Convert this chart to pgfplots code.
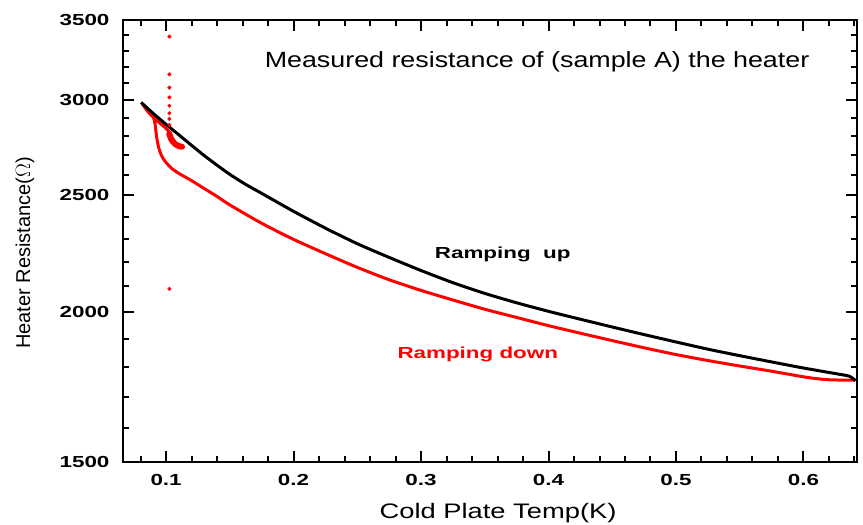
\documentclass[border=0pt]{standalone}
\usepackage{pgfplots}
\pgfplotsset{compat=1.18}
\usepackage{fontspec}
\setmainfont{Liberation Sans}
\newfontfamily\tickfont[FakeStretch=1.4]{Liberation Sans}
\newfontfamily\titlefont[FakeStretch=1.22]{Liberation Sans}
\newfontfamily\labfont[FakeStretch=1.3]{Liberation Sans}
\definecolor{rred}{RGB}{255,0,0}
\begin{document}
\begin{tikzpicture}
\useasboundingbox (0,0) rectangle (863pt,525pt);
\begin{axis}[
  at={(123pt,63pt)}, anchor=south west,
  scale only axis, width=734pt, height=442pt,
  ymode=log,
  xmin=0.0662, xmax=0.642, ymin=1500, ymax=3500,
  xtick={0.1,0.2,0.3,0.4,0.5,0.6},
  xticklabels={0.1,0.2,0.3,0.4,0.5,0.6},
  minor xtick={0.08,0.12,0.14,0.16,0.18,0.22,0.24,0.26,0.28,0.32,0.34,0.36,0.38,0.42,0.44,0.46,0.48,0.52,0.54,0.56,0.58,0.62,0.64},
  ytick={1500,2000,2500,3000,3500},
  yticklabels={1500,2000,2500,3000,3500},
  minor ytick={1600,1700,1800,1900,2100,2200,2300,2400,2600,2700,2800,2900,3100,3200,3300,3400},
  tick align=inside,
  major tick length=11pt, minor tick length=6pt,
  every tick/.style={black, line width=2pt},
  axis line style={line width=2.5pt},
  ticklabel style={font=\fontsize{16}{16}\selectfont\tickfont\bfseries},
  yticklabel style={xshift=-10pt},
  xticklabel style={yshift=-9pt},
  xlabel={Cold Plate Temp(K)},
  ylabel={Heater Resistance($\Omega$)},
  xlabel style={font=\fontsize{21}{21}\selectfont\labfont, at={(rel axis cs:0.511,-0.1154)}, anchor=center},
  ylabel style={font=\fontsize{20}{20}\selectfont, at={(rel axis cs:-0.1335,0.473)}, anchor=center},
]
% Ramping down (red), from high T to low T, then loop toward blob
\addplot[rred, line width=3pt, line join=round, smooth, tension=0.4] coordinates {
(0.6408,1755) (0.630,1755) (0.620,1756) (0.610,1760) (0.600,1766)
(0.575,1785) (0.550,1803) (0.525,1822) (0.500,1843) (0.475,1867)
(0.450,1893) (0.425,1920) (0.400,1948) (0.375,1979) (0.350,2010)
(0.325,2046) (0.300,2084) (0.275,2127) (0.250,2178) (0.225,2236)
(0.200,2298) (0.175,2370) (0.150,2455) (0.140,2495) (0.130,2533)
(0.120,2572) (0.110,2608) (0.104,2635) (0.0985,2675) (0.0960,2705)
(0.0940,2745) (0.0925,2800) (0.0915,2860) (0.0900,2905) (0.0860,2945)
(0.0815,2978) (0.0870,2925) (0.0930,2885) (0.0980,2855) (0.1025,2825)
};
\addplot[rred, line width=6pt, line cap=round, line join=round, smooth] coordinates {
(0.1025,2815) (0.1040,2785) (0.1070,2760) (0.1100,2748) (0.1125,2745)
};
\addplot[rred, only marks, mark=*, mark size=1.8pt] coordinates {
(0.1026,3390) (0.1026,3153) (0.1026,3074) (0.1026,3017) (0.1026,2969)
(0.1026,2927) (0.1026,2895) (0.1026,2862) (0.1026,2090)
};
% Ramping up (black)
\addplot[black, line width=3pt, line join=round, smooth, tension=0.4] coordinates {
(0.0804,2988) (0.090,2925) (0.100,2865) (0.110,2808) (0.120,2752)
(0.130,2698) (0.140,2649) (0.150,2603) (0.162,2555) (0.175,2510)
(0.200,2425) (0.225,2348)
(0.250,2279) (0.275,2220) (0.300,2165) (0.325,2115) (0.350,2072)
(0.375,2035) (0.400,2002) (0.425,1972) (0.450,1943) (0.475,1915)
(0.500,1888) (0.525,1862) (0.550,1839) (0.575,1817) (0.600,1796)
(0.625,1777) (0.636,1768) (0.6408,1753)
};
\node[font=\fontsize{22}{22}\selectfont\titlefont] at (axis cs:0.391,3231) {Measured resistance of (sample A) the heater};
\node[font=\fontsize{16}{16}\selectfont\tickfont\bfseries] at (axis cs:0.3641,2235) {Ramping\ \ up};
\node[font=\fontsize{16}{16}\selectfont\tickfont\bfseries, text=rred] at (axis cs:0.3445,1842) {Ramping down};
\end{axis}
\end{tikzpicture}
\end{document}
